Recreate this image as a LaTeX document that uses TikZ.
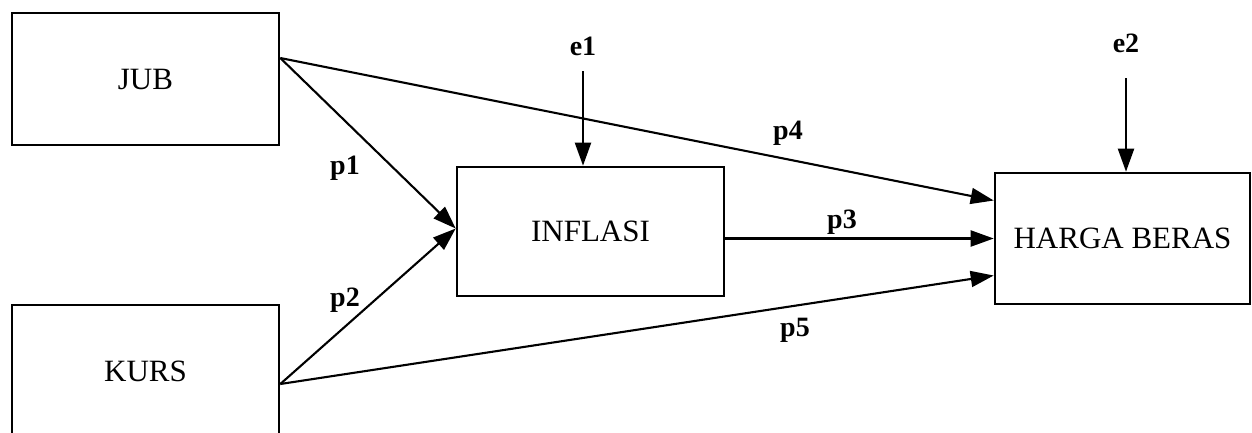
\documentclass[tikz,border=0pt]{standalone}
\usepackage{fontspec}
\setmainfont{Liberation Serif}
\usetikzlibrary{arrows.meta}
\tikzset{
  box/.style={draw, line width=2.6pt, rectangle, inner sep=0pt, font=\fontsize{31}{33}\selectfont},
  arr/.style={line width=2.1pt, -{Triangle[length=23pt,width=16pt]}},
  lbl/.style={font=\fontsize{28}{30}\selectfont\bfseries, inner sep=0pt}
}
\begin{document}
\begin{tikzpicture}[x=1pt,y=-1pt]
\clip (0,0) rectangle (1252,432);
\fill[white] (0,0) rectangle (1252,432);
\node[box, minimum width=267pt, minimum height=132pt] (jub) at (145.5,79) {JUB};
\node[box, minimum width=267pt, minimum height=132pt] (kurs) at (145.5,371) {KURS};
\node[box, minimum width=267pt, minimum height=129pt] (inf) at (590.5,231.5) {INFLASI};
\node[box, minimum width=255pt, minimum height=131pt] (hb) at (1122.5,238.5) {HARGA BERAS};
\node[lbl] (e1) at (583,46) {e1};
\node[lbl] (e2) at (1126,43) {e2};
\coordinate (e1s) at (583,71);
\coordinate (e2s) at (1126,78);
\draw[arr] (e1s) -- (e1s |- inf.north);
\draw[arr] (e2s) -- (e2s |- hb.north);
\draw[arr] ([yshift=21pt]jub.east) -- ([yshift=3pt]inf.west);
\draw[arr] ([yshift=-13pt]kurs.east) -- ([yshift=3pt]inf.west);
\draw[arr] ([yshift=21pt]jub.east) -- ([yshift=38pt]hb.west);
\draw[arr] ([yshift=-7pt]inf.east) -- (hb.west);
\draw[arr] ([yshift=-13pt]kurs.east) -- ([yshift=-37pt]hb.west);
\node[lbl] (p1) at (345,168) {p1};
\node[lbl] (p2) at (345,300) {p2};
\node[lbl] (p3) at (842,222) {p3};
\node[lbl] (p4) at (788,133) {p4};
\node[lbl] (p5) at (795,330) {p5};
\end{tikzpicture}
\end{document}
